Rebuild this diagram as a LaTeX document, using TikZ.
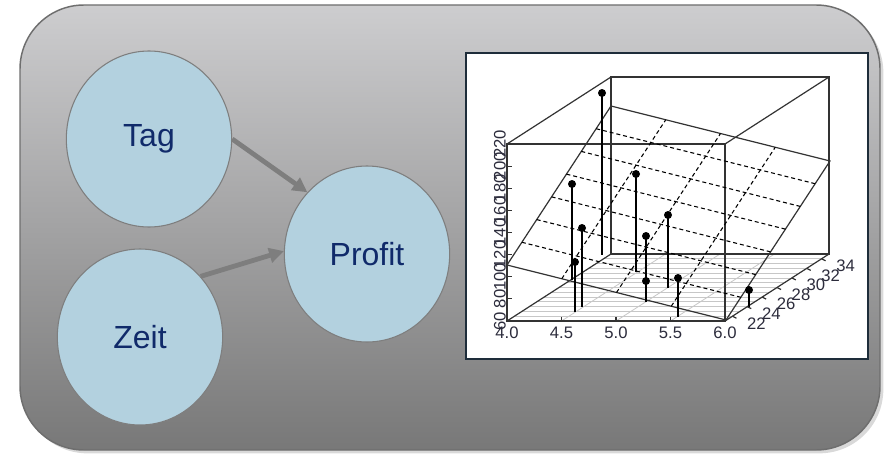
\documentclass[tikz,border=0pt]{standalone}
\usepackage{fontspec}
\setmainfont{Liberation Sans}
\usepackage{xcolor}
\usepackage{tikz}
\usetikzlibrary{shapes.geometric, arrows.meta, shadows}

\definecolor{bgtop}{HTML}{CDCDCF}
\definecolor{bgbottom}{HTML}{787878}
\definecolor{rimgray}{HTML}{6E6E6E}
\definecolor{nodeblue}{HTML}{B3D1DF}
\definecolor{textnavy}{HTML}{102A6A}
\definecolor{arrowgray}{HTML}{7E7E7E}
\definecolor{plotrim}{HTML}{1E2D3A}
\definecolor{boxgray}{HTML}{333333}
\definecolor{labelgray}{HTML}{2C2C3C}

\begin{document}
\begin{tikzpicture}[
    x=0.75pt, y=-0.75pt,
    var/.style={draw=arrowgray, line width=0.8pt, fill=nodeblue, ellipse,
        minimum width=124pt, minimum height=132pt, inner sep=0pt,
        font=\fontsize{24}{28}\selectfont, text=textnavy},
    link/.style={draw=arrowgray, line width=3.6pt, -{Triangle[length=11pt, width=11pt]}},
    boxline/.style={draw=boxgray, line width=0.9pt},
    floorgrid/.style={draw=black!22, line width=0.6pt},
    planegrid/.style={draw=black, line width=0.8pt, dash pattern=on 3pt off 2.2pt},
    stem/.style={draw=black, line width=1pt},
    ticklabel/.style={inner sep=0pt, text=labelgray, font=\fontsize{12.5}{13}\selectfont}
]
    \path[use as bounding box] (0,0) rectangle (891,460);

    % background panel
    \path[draw=rimgray, line width=1.1pt, top color=bgtop, bottom color=bgbottom,
        rounded corners=48pt,
        drop shadow={opacity=0.3, shadow xshift=2.5pt, shadow yshift=-2.5pt}]
        (20,5) rectangle (880,450);

    % variables
    \node[var] (tag) at (149,139) {Tag};
    \node[var] (zeit) at (140,337) {Zeit};
    \node[var] (profit) at (367,254) {Profit};

    \draw[link] (tag.east) -- (profit.134);
    \draw[link] (zeit.45) -- (profit.178);

    % regression plot
    \draw[draw=plotrim, fill=white, line width=1.2pt] (466,53) rectangle (868,359);

    \foreach \k in {1,...,13}
        \draw[floorgrid] ({507+104*\k/14},{321-67*\k/14}) -- ++(218,0);
    \foreach \xt in {561.5,616,670.5}
        \draw[floorgrid] (\xt,321) -- ++(104,-67);

    \draw[boxline] (507,144) rectangle (725,321);
    \draw[boxline] (611,77) rectangle (829,254);
    \draw[boxline] (507,144) -- (611,77) (725,144) -- (829,77)
        (725,321) -- (829,254) (507,321) -- (611,254);

    % fitted plane
    \draw[boxline] (507,265) -- (611,106) -- (830,161) -- (726,320) -- cycle;
    \foreach \k in {1,...,6}
        \draw[planegrid] ({507+104*\k/7},{265-159*\k/7}) -- ++(219,55);
    \foreach \k in {1,2,3}
        \draw[planegrid] ({507+219*\k/4},{265+55*\k/4}) -- ++(104,-159);

    % observations
    \foreach \px/\py/\pb in {602/93/255, 572/184/280, 582/228/307, 575/262/312,
        636/174/272, 646/236/281, 668/215/288, 646/281/302, 678/278/317, 749/290/307} {
        \draw[stem] (\px,\py) -- (\px,\pb);
        \fill (\px,\py) circle[radius=3pt];
    }

    % axes
    \foreach \v [count=\i from 0] in {60,80,...,220} {
        \draw[boxline] (507,{321-\i*22.125}) -- ++(5,0);
        \node[ticklabel, rotate=90] (zl\i) at (500,{321-\i*22.125}) {\v};
    }
    \foreach \v/\xp [count=\i] in {4.0/507, 4.5/561.5, 5.0/616, 5.5/670.5, 6.0/725} {
        \draw[boxline] (\xp,321) -- ++(0,-4);
        \node[ticklabel] (xl\i) at (\xp,333) {\v};
    }
    \foreach \v [count=\i] in {22,24,...,34} {
        \draw[boxline] ({725+104*(\v-21)/14},{321-67*(\v-21)/14}) -- ++(4,2);
        \node[ticklabel] (yl\i) at ({725+104*(\v-21)/14+24},{321-67*(\v-21)/14+7}) {\v};
    }
\end{tikzpicture}
\end{document}
